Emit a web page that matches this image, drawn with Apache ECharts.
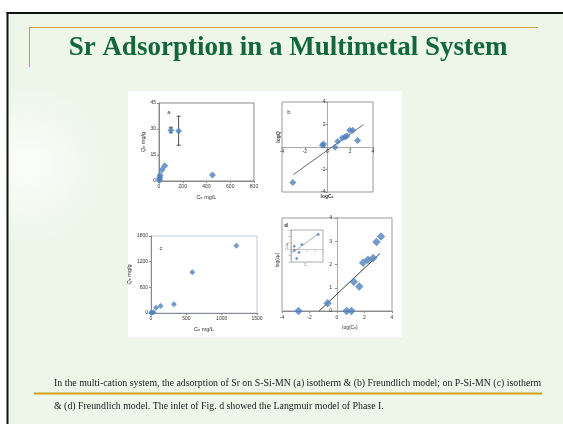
<!DOCTYPE html>
<html>
<head>
<meta charset="utf-8">
<script src="https://cdn.jsdelivr.net/npm/echarts@6/dist/echarts.min.js"></script>
<style>
html,body{margin:0;padding:0;background:#ffffff;}
#c{width:563px;height:424px;}
</style>
</head>
<body>
<div id="c"></div>
<script>
// ---------- data ----------
// (a) S-Si-MN isotherm
const aCe = [2, 4, 7, 10, 25, 48, 100, 165, 450];
const aQe = [0.3, 1.2, 2.2, 3.3, 6.5, 8.8, 29.3, 28.8, 3.5];
// error bars (a): x, low, high
const aErrX = [100, 165];
const aErrLow = [27.8, 20.6];
const aErrHigh = [31.0, 37.4];
// (b) Freundlich model S-Si-MN
const bLogCe = [-3.05, -0.45, -0.35, 0.66, 0.9, 1.3, 1.55, 1.7, 1.95, 2.22, 2.65];
const bLogQ  = [-3.15, 0.15, 0.27, -0.03, 0.5, 0.8, 0.9, 0.97, 1.5, 1.5, 0.57];
const bFitX = [-3.0, 3.15];
const bFitY = [-2.45, 1.98];
// (c) P-Si-MN isotherm
const cCe = [2, 12, 35, 72, 135, 325, 585, 1208];
const cQe = [5, 10, 18, 125, 165, 205, 955, 1575];
// (d) Freundlich model P-Si-MN
const dLogCe = [-2.8, -0.68, 0.7, 1.05, 1.22, 1.62, 1.9, 2.25, 2.63, 2.87, 3.2];
const dLogQe = [0, 0.33, 0, 0, 1.26, 1.05, 2.07, 2.2, 2.28, 2.97, 3.2];
const dFitX = [-1.3, 3.12];
const dFitY = [0, 2.47];
// inset of (d): Langmuir model, phase I
const iX = [0.4, 0.4, 0.72, 1.0, 1.35, 3.4];
const iY = [0.46, -0.15, -1.45, -0.5, 0.72, 2.3];
const iFitX = [0.2, 3.5];
const iFitY = [-0.55, 2.5];

// tick ranges
const aXTicks = {min:0, max:800, interval:200};
const aYTicks = {min:0, max:45, interval:15};
const bTicks = {min:-4, max:4, interval:2};
const cXTicks = {min:0, max:1500, interval:500};
const cYTicks = {min:0, max:1800, interval:600};
const dXTicks = {min:-4, max:4, interval:2};
const dYTicks = {min:0, max:4, interval:1};
const iXTicks = {min:0, max:4, interval:1};
const iYTicks = {min:-2, max:3, interval:1};

const titleText = 'Sr Adsorption in a Multimetal System';
const caption1 = 'In the multi-cation system, the adsorption of Sr on S-Si-MN (a) isotherm & (b) Freundlich model; on P-Si-MN (c) isotherm';
const caption2 = '& (d) Freundlich model. The inlet of Fig. d showed the Langmuir model of Phase I.';

// ---------- helpers ----------
const zip = (xs, ys) => xs.map((x, i) => [x, ys[i]]);
const BLUE = '#4f81bd';
const AX = '#8a8a8a';
const LBL = '#333';
const SANS = 'Liberation Sans, Arial, sans-serif';
const plain = v => String(v);

function mkAxis(gi, t, extra) {
  return Object.assign({
    gridIndex: gi, type: 'value', min: t.min, max: t.max, interval: t.interval,
    axisLine: {show: true, onZero: false, lineStyle: {color: AX, width: 1}},
    axisTick: {show: true, length: 2, lineStyle: {color: AX}},
    axisLabel: {fontSize: 5, color: LBL, margin: 3, fontFamily: SANS, formatter: plain},
    splitLine: {show: false},
    nameTextStyle: {fontSize: 5.5, color: LBL, fontFamily: SANS}
  }, extra || {});
}

// grid boxes
const G = [
  {left: 159, top: 103, width: 95, height: 78},
  {left: 282, top: 102, width: 91, height: 90},
  {left: 151, top: 236, width: 106, height: 77},
  {left: 282, top: 218, width: 110, height: 93},
  {left: 291, top: 230, width: 32, height: 32}
];

const chart = echarts.init(document.getElementById('c'), null, {renderer: 'canvas'});

const option = {
  animation: false,
  backgroundColor: 'transparent',
  grid: [
    Object.assign({show: true, borderColor: AX, borderWidth: 1, backgroundColor: 'transparent'}, G[0]),
    Object.assign({show: true, borderColor: '#999', borderWidth: 1, backgroundColor: 'transparent'}, G[1]),
    Object.assign({show: true, borderColor: '#bccbe0', borderWidth: 1, backgroundColor: 'transparent'}, G[2]),
    Object.assign({show: true, borderColor: '#9a9a9a', borderWidth: 1, backgroundColor: 'transparent'}, G[3]),
    Object.assign({show: true, borderColor: '#9a9a9a', borderWidth: 0.8, backgroundColor: '#ffffff'}, G[4])
  ],
  xAxis: [
    mkAxis(0, aXTicks, {name: 'Cₑ mg/L', nameLocation: 'middle', nameGap: 13}),
    // axis placed at y = 0 (middle of the symmetric -4..4 range)
    mkAxis(1, bTicks, {offset: -G[1].height / 2, axisLine: {show: true, onZero: false, lineStyle: {color: '#aaa'}},
      axisLabel: {fontSize: 5, color: LBL, margin: 2, fontFamily: SANS, formatter: plain}}),
    mkAxis(2, cXTicks, {name: 'Cₑ mg/L', nameLocation: 'middle', nameGap: 13}),
    mkAxis(3, dXTicks, {axisLabel: {fontSize: 5, color: LBL, margin: 4, fontFamily: SANS, formatter: plain}}),
    mkAxis(4, iXTicks, {offset: -G[4].height * 2 / 5, axisLine: {show: true, onZero: false, lineStyle: {color: '#aaa', width: 0.6}},
      axisTick: {show: true, length: 1, lineStyle: {color: '#aaa', width: 0.5}},
      axisLabel: {fontSize: 2.5, color: '#666', margin: 1, fontFamily: SANS, formatter: plain}})
  ],
  yAxis: [
    mkAxis(0, aYTicks, {name: 'Qₑ mg/g', nameLocation: 'middle', nameGap: 12}),
    mkAxis(1, bTicks, {offset: -G[1].width / 2, axisLine: {show: true, onZero: false, lineStyle: {color: '#aaa'}},
      axisLabel: {fontSize: 5, color: LBL, margin: 2, fontFamily: SANS, formatter: plain}}),
    mkAxis(2, cYTicks, {name: 'Qₑ mg/g', nameLocation: 'middle', nameGap: 10}),
    // axis placed at x = 0 (middle of the -4..4 range)
    mkAxis(3, dYTicks, {offset: -G[3].width / 2, axisLine: {show: true, onZero: false, lineStyle: {color: '#aaa'}},
      axisLabel: {fontSize: 5, color: LBL, margin: 5, fontFamily: SANS, formatter: plain}}),
    mkAxis(4, iYTicks, {axisLine: {show: true, onZero: false, lineStyle: {color: '#aaa', width: 0.6}},
      axisTick: {show: true, length: 1, lineStyle: {color: '#aaa', width: 0.5}},
      axisLabel: {fontSize: 2.5, color: '#666', margin: 1, fontFamily: SANS, formatter: plain}})
  ],
  series: [
    {
      type: 'custom', xAxisIndex: 0, yAxisIndex: 0, z: 3,
      data: aErrX.map((x, i) => [x, aErrLow[i], aErrHigh[i]]),
      renderItem: function (params, api) {
        const lo = api.coord([api.value(0), api.value(1)]);
        const hi = api.coord([api.value(0), api.value(2)]);
        const st = {stroke: '#222', lineWidth: 0.8};
        return {type: 'group', children: [
          {type: 'line', shape: {x1: lo[0], y1: lo[1], x2: hi[0], y2: hi[1]}, style: st},
          {type: 'line', shape: {x1: lo[0] - 2, y1: lo[1], x2: lo[0] + 2, y2: lo[1]}, style: st},
          {type: 'line', shape: {x1: hi[0] - 2, y1: hi[1], x2: hi[0] + 2, y2: hi[1]}, style: st}
        ]};
      }
    },
    {type: 'scatter', xAxisIndex: 0, yAxisIndex: 0, z: 4, symbol: 'diamond', symbolSize: 7,
      itemStyle: {color: BLUE}, data: zip(aCe, aQe)},
    {type: 'line', xAxisIndex: 1, yAxisIndex: 1, z: 3, symbol: 'none',
      lineStyle: {color: '#444', width: 0.8}, data: zip(bFitX, bFitY)},
    {type: 'scatter', xAxisIndex: 1, yAxisIndex: 1, z: 4, symbol: 'diamond', symbolSize: 7,
      itemStyle: {color: BLUE}, data: zip(bLogCe, bLogQ)},
    {type: 'scatter', xAxisIndex: 2, yAxisIndex: 2, z: 4, symbol: 'diamond', symbolSize: 6,
      itemStyle: {color: BLUE}, data: zip(cCe, cQe)},
    {type: 'line', xAxisIndex: 3, yAxisIndex: 3, z: 3, symbol: 'none',
      lineStyle: {color: '#222', width: 0.9}, data: zip(dFitX, dFitY)},
    {type: 'scatter', xAxisIndex: 3, yAxisIndex: 3, z: 4, symbol: 'diamond', symbolSize: 8.5,
      itemStyle: {color: BLUE}, data: zip(dLogCe, dLogQe)},
    {type: 'line', xAxisIndex: 4, yAxisIndex: 4, z: 5, symbol: 'none',
      lineStyle: {color: '#777', width: 0.6}, data: zip(iFitX, iFitY)},
    {type: 'scatter', xAxisIndex: 4, yAxisIndex: 4, z: 6, symbol: 'diamond', symbolSize: 3.5,
      itemStyle: {color: BLUE}, data: zip(iX, iY)}
  ],
  graphic: [
    // slide background
    {type: 'rect', z: -100, shape: {x: 7, y: 12, width: 560, height: 420}, style: {fill: '#eef6ea'}},
    {type: 'circle', z: -99, shape: {cx: 28, cy: 165, r: 80},
      style: {fill: {type: 'radial', x: 0.5, y: 0.5, r: 0.5,
        colorStops: [{offset: 0, color: 'rgba(255,255,255,0.75)'}, {offset: 1, color: 'rgba(255,255,255,0)'}]}}},
    {type: 'line', z: -98, shape: {x1: 7.5, y1: 12, x2: 7.5, y2: 424}, style: {stroke: '#111', lineWidth: 2}},
    {type: 'line', z: -98, shape: {x1: 6.5, y1: 13, x2: 563, y2: 13}, style: {stroke: '#111', lineWidth: 2}},
    // white panel backgrounds
    {type: 'rect', z: -97, shape: {x: 128, y: 91, width: 274, height: 246}, style: {fill: '#ffffff'}},
    // title decoration
    {type: 'line', z: -90, shape: {x1: 29.5, y1: 27.5, x2: 538, y2: 27.5}, style: {stroke: '#c9a23c', lineWidth: 1}},
    {type: 'line', z: -90, shape: {x1: 29.5, y1: 27, x2: 29.5, y2: 67}, style: {stroke: '#c9a23c', lineWidth: 1}},
    {type: 'text', z: 10, style: {text: titleText, x: 288, y: 48, align: 'center', verticalAlign: 'middle',
      textAlign: 'center', textVerticalAlign: 'middle',
      fill: '#12683a', font: 'bold 27px "Liberation Serif", "Times New Roman", serif'}},
    // caption
    {type: 'text', z: 10, style: {text: caption1, x: 54, y: 383, verticalAlign: 'middle', textVerticalAlign: 'middle',
      fill: '#1a1a1a', font: '9.85px "Liberation Serif", "Times New Roman", serif'}},
    {type: 'line', z: 10, shape: {x1: 34, y1: 393.5, x2: 542, y2: 393.5}, style: {stroke: '#d4a017', lineWidth: 2}},
    {type: 'text', z: 10, style: {text: caption2, x: 54, y: 406, verticalAlign: 'middle', textVerticalAlign: 'middle',
      fill: '#1a1a1a', font: '9.85px "Liberation Serif", "Times New Roman", serif'}},
    // panel letters
    {type: 'text', z: 10, style: {text: 'a', x: 169, y: 112, align: 'center', verticalAlign: 'middle', fill: '#333', font: '6px ' + SANS}},
    {type: 'text', z: 10, style: {text: 'b', x: 289, y: 112, align: 'center', verticalAlign: 'middle', fill: '#333', font: '6px ' + SANS}},
    {type: 'text', z: 10, style: {text: 'c', x: 161, y: 248, align: 'center', verticalAlign: 'middle', fill: '#333', font: '6px ' + SANS}},
    {type: 'text', z: 10, style: {text: 'd', x: 286, y: 225, align: 'center', verticalAlign: 'middle', fill: '#222', font: 'bold 6px ' + SANS}},
    // axis titles placed on the frame for panels with axes through zero
    {type: 'text', z: 10, rotation: Math.PI / 2, x: 278.5, y: 137,
      style: {text: 'logQ', align: 'center', verticalAlign: 'middle', fill: '#333', font: 'bold 5px ' + SANS}},
    {type: 'text', z: 10, style: {text: 'logCₑ', x: 327, y: 196.5, align: 'center', verticalAlign: 'middle', fill: '#333', font: 'bold 5px ' + SANS}},
    {type: 'text', z: 10, rotation: Math.PI / 2, x: 277.5, y: 260,
      style: {text: 'log(qₑ)', align: 'center', verticalAlign: 'middle', fill: '#333', font: '5px ' + SANS}},
    {type: 'text', z: 10, style: {text: 'log(Cₑ)', x: 350, y: 328, align: 'center', verticalAlign: 'middle', fill: '#333', font: '5px ' + SANS}},
    {type: 'text', z: 10, rotation: Math.PI / 2, x: 287.5, y: 246,
      style: {text: 'Cₑ/qₑ', align: 'center', verticalAlign: 'middle', fill: '#555', font: '3px ' + SANS}},
    {type: 'text', z: 10, style: {text: 'Cₑ', x: 306, y: 265.5, align: 'center', verticalAlign: 'middle', fill: '#555', font: '3px ' + SANS}}
  ]
};
chart.setOption(option);
</script>
</body>
</html>
